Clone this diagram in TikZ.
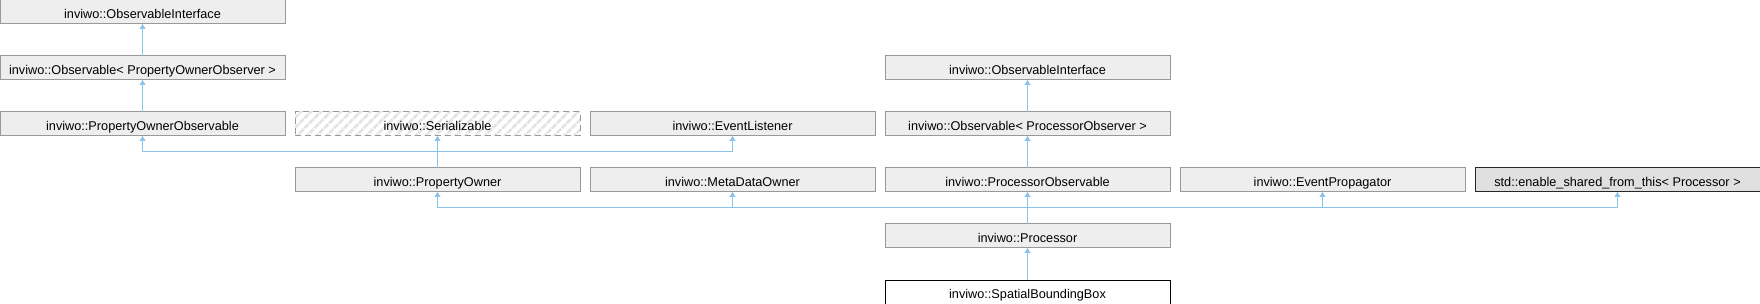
\documentclass[tikz,border=0pt]{standalone}
\usepackage{fontspec}
\setmainfont{Liberation Sans}
\usepackage{tikz}
\usetikzlibrary{positioning,arrows.meta,patterns.meta}

\definecolor{boxfill}{HTML}{EEEEEE}
\definecolor{boxline}{HTML}{999999}
\definecolor{edgeblue}{HTML}{8AC4E6}

\begin{document}
\begin{tikzpicture}[
node distance=16pt and 5pt,
box/.style={draw=boxline, line width=0.5pt, fill=boxfill, minimum width=142.5pt, minimum height=12pt, inner sep=0pt, outer sep=0pt, text height=1.45ex, text depth=.3ex, font=\fontsize{6.35}{7}\selectfont},
hidden/.style={box, fill=none, dash pattern=on 3pt off 2pt, pattern={Lines[angle=45,distance=3.5pt,line width=1.3pt]}, pattern color=black!11},
extern/.style={box, draw=black!85, fill=black!12},
current/.style={box, draw=black, fill=white},
arrow/.style={-{Triangle[length=2.5pt, width=3pt]}, line width=0.5pt, edgeblue}
]
\useasboundingbox (0,0) rectangle (880pt,-152pt);

% left branch
\node[box, anchor=north west] (obsiface) at (0,0) {inviwo::ObservableInterface};
\node[box, below=of obsiface] (ownerobsv) {inviwo::Observable< PropertyOwnerObserver >};
\node[box, below=of ownerobsv] (ownerobs) {inviwo::PropertyOwnerObservable};
\node[hidden, right=of ownerobs] (serial) {inviwo::Serializable};
\node[box, right=of serial] (listener) {inviwo::EventListener};
\node[box, right=of listener] (procobsv) {inviwo::Observable< ProcessorObserver >};
\node[box, above=of procobsv] (prociface) {inviwo::ObservableInterface};

% direct bases of the processor
\node[box, below=of serial] (owner) {inviwo::PropertyOwner};
\node[box, right=of owner] (metadata) {inviwo::MetaDataOwner};
\node[box, right=of metadata] (procobs) {inviwo::ProcessorObservable};
\node[box, right=of procobs] (propagator) {inviwo::EventPropagator};
\node[extern, right=of propagator] (shared) {std::enable\_shared\_from\_this< Processor >};

\node[box, below=of procobs] (processor) {inviwo::Processor};
\node[current, below=of processor] (bbox) {inviwo::SpatialBoundingBox};

\draw[arrow] (ownerobsv) -- (obsiface);
\draw[arrow] (ownerobs) -- (ownerobsv);
\draw[arrow] (procobsv) -- (prociface);
\draw[arrow] (procobs) -- (procobsv);

\draw[arrow] (owner.north) -- ++(0,8pt) -| (ownerobs.south);
\draw[arrow] (owner) -- (serial);
\draw[arrow] (owner.north) -- ++(0,8pt) -| (listener.south);

\draw[arrow] (processor.north) -- ++(0,8pt) -| (owner.south);
\draw[arrow] (processor.north) -- ++(0,8pt) -| (metadata.south);
\draw[arrow] (processor) -- (procobs);
\draw[arrow] (processor.north) -- ++(0,8pt) -| (propagator.south);
\draw[arrow] (processor.north) -- ++(0,8pt) -| (shared.south);

\draw[arrow] (bbox) -- (processor);
\end{tikzpicture}
\end{document}
